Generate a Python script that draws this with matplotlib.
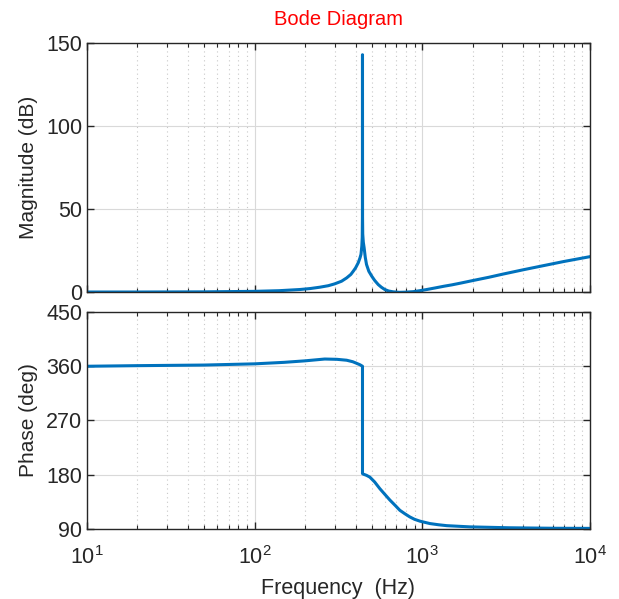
import numpy as np
import matplotlib
matplotlib.use('Agg')
import matplotlib.pyplot as plt
from matplotlib.ticker import LogLocator, NullFormatter

plt.rcParams['font.family'] = ['Liberation Sans', 'DejaVu Sans']
plt.rcParams['mathtext.fontset'] = 'custom'
plt.rcParams['mathtext.rm'] = 'Liberation Sans'

# Magnitude curve (Hz, dB)
mag_freq = [10, 20, 50, 100, 140, 186, 215, 245, 275, 300, 330, 354, 375, 388,
            400, 415, 425, 431, 436, 438.5, 439.6, 440, 440.4, 441.5, 445, 450,
            457, 465, 480, 500, 520, 546, 570, 598, 630, 671, 730, 790, 883, 968,
            1050, 1200, 1350, 1500, 1700, 2000, 2500, 3000, 4000, 5000, 7000, 10000]
mag_db = [0, 0, 0.1, 0.4, 0.8, 1.5, 2.1, 2.9, 3.8, 4.9, 6.5, 8.5, 10.6, 12.6,
          14.5, 17.6, 20.5, 22.7, 27.7, 33, 45, 143, 45, 35, 30, 26.7,
          21, 16.6, 12.5, 9.5, 7.0, 4.5, 2.9, 1.5, 0.6, 0.1, -0.2, -0.1, 0.2, 0.8,
          1.4, 2.5, 3.5, 4.3, 5.4, 6.9, 8.9, 10.7, 13.4, 15.4, 18.4, 21.3]

# Phase curve (Hz, deg)
ph_freq = [10, 20, 50, 100, 150, 200, 262, 310, 354, 385, 405, 425, 440, 440.01,
           445, 465, 487, 520, 558, 600, 641, 690, 735, 790, 843, 900, 968,
           1110, 1250, 1400, 1920, 3300, 6000, 10000]
ph_deg = [360, 361, 362, 364, 366.5, 369, 372, 371.5, 370, 367.5, 365, 362.5, 360, 182,
          181, 179, 176, 168, 157, 147, 138, 129, 121, 115, 110, 106, 103,
          99, 97, 95.5, 93.5, 92, 91.2, 91]

line_color = '#0072BD'
axis_color = '#262626'

fig = plt.figure(figsize=(6.19, 5.99), dpi=100)
ax1 = fig.add_axes([0.1405, 0.5125, 0.8125, 0.4155])
ax2 = fig.add_axes([0.1405, 0.1169, 0.8125, 0.3622])

ax1.semilogx(mag_freq, mag_db, color=line_color, lw=2.2)
ax2.semilogx(ph_freq, ph_deg, color=line_color, lw=2.2)

for ax in (ax1, ax2):
    ax.set_xlim(10, 1e4)
    ax.xaxis.set_major_locator(LogLocator(base=10))
    ax.xaxis.set_minor_locator(LogLocator(base=10, subs=np.arange(2, 10)))
    ax.xaxis.set_minor_formatter(NullFormatter())
    ax.grid(True, which='major', color='#d9d9d9', lw=0.8)
    ax.grid(True, which='minor', axis='x', color='#c8c8c8', lw=0.8, ls=(0, (1, 3)))
    ax.tick_params(which='both', direction='in', top=True, right=True,
                   colors=axis_color, labelcolor='#262626', labelsize=15.5)
    ax.tick_params(which='major', length=5, width=1)
    ax.tick_params(which='minor', length=3, width=0.8)
    for s in ax.spines.values():
        s.set_color(axis_color)
        s.set_linewidth(1.0)
    ax.set_axisbelow(True)

ax1.set_ylim(0, 150)
ax1.set_yticks([0, 50, 100, 150])
ax1.tick_params(labelbottom=False)
ax1.set_ylabel('Magnitude (dB)', fontsize=15, color='#262626', labelpad=6)
ax1.set_title('Bode Diagram', color='red', fontsize=14.5, pad=13)

ax2.set_ylim(90, 450)
ax2.set_yticks([90, 180, 270, 360, 450])
ax2.tick_params(axis='x', pad=12)
ax2.set_ylabel('Phase (deg)', fontsize=15, color='#262626', labelpad=6)
ax2.set_xlabel('Frequency  (Hz)', fontsize=15.5, color='#262626', labelpad=7)

fig.align_ylabels([ax1, ax2])
fig.savefig('out.png', dpi=100)
